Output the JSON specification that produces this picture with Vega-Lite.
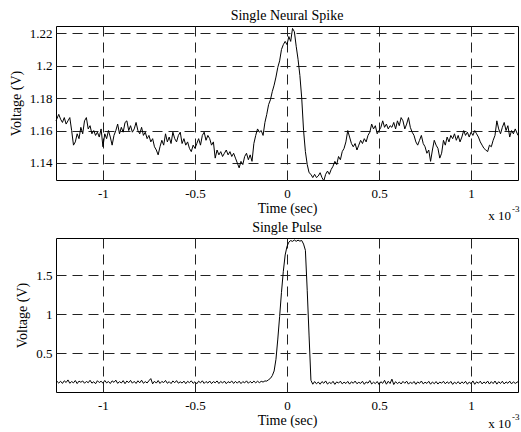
{
"$schema": "https://vega.github.io/schema/vega-lite/v6.json",
"padding": {"left": 8, "top": 8, "right": 2, "bottom": 0},
"spacing": 58,
"bounds": "flush",
"config": {
 "font": "Liberation Serif",
 "view": {"stroke": "black", "strokeWidth": 1},
 "axis": {"grid": true, "gridColor": "#222", "gridDash": [10, 6], "gridOpacity": 1, "gridWidth": 1, "domain": false, "ticks": false, "labelOverlap": false, "tickCount": 10, "labelFont": "Liberation Serif", "labelFontSize": 13, "labelColor": "black", "titleFont": "Liberation Serif", "titleFontSize": 14, "titleFontWeight": "normal", "titleColor": "black"},
 "title": {"font": "Liberation Serif", "fontSize": 14, "fontWeight": "normal", "color": "black", "offset": 3}
},
"datasets": {
 "spike": [
{"t":-1.255,"v":1.166},{"t":-1.24,"v":1.170},{"t":-1.23,"v":1.167},{"t":-1.22,"v":1.165},{"t":-1.21,"v":1.168},{"t":-1.20,"v":1.164},{"t":-1.19,"v":1.166},{"t":-1.18,"v":1.168},{"t":-1.17,"v":1.160},{"t":-1.16,"v":1.151},{"t":-1.15,"v":1.153},{"t":-1.14,"v":1.158},{"t":-1.13,"v":1.155},{"t":-1.12,"v":1.162},{"t":-1.11,"v":1.158},{"t":-1.10,"v":1.166},{"t":-1.09,"v":1.168},{"t":-1.08,"v":1.161},{"t":-1.07,"v":1.163},{"t":-1.06,"v":1.158},{"t":-1.05,"v":1.160},{"t":-1.04,"v":1.157},{"t":-1.03,"v":1.159},{"t":-1.02,"v":1.156},{"t":-1.01,"v":1.161},{"t":-1.00,"v":1.150},{"t":-0.99,"v":1.158},{"t":-0.98,"v":1.155},{"t":-0.97,"v":1.160},{"t":-0.96,"v":1.156},{"t":-0.95,"v":1.151},{"t":-0.94,"v":1.157},{"t":-0.93,"v":1.160},{"t":-0.92,"v":1.164},{"t":-0.91,"v":1.158},{"t":-0.90,"v":1.162},{"t":-0.89,"v":1.159},{"t":-0.88,"v":1.165},{"t":-0.87,"v":1.166},{"t":-0.86,"v":1.160},{"t":-0.85,"v":1.163},{"t":-0.84,"v":1.159},{"t":-0.83,"v":1.161},{"t":-0.82,"v":1.165},{"t":-0.81,"v":1.160},{"t":-0.80,"v":1.158},{"t":-0.79,"v":1.162},{"t":-0.78,"v":1.157},{"t":-0.77,"v":1.159},{"t":-0.76,"v":1.155},{"t":-0.75,"v":1.157},{"t":-0.74,"v":1.153},{"t":-0.73,"v":1.155},{"t":-0.72,"v":1.150},{"t":-0.71,"v":1.148},{"t":-0.70,"v":1.145},{"t":-0.69,"v":1.150},{"t":-0.68,"v":1.154},{"t":-0.67,"v":1.151},{"t":-0.66,"v":1.158},{"t":-0.65,"v":1.153},{"t":-0.64,"v":1.156},{"t":-0.63,"v":1.152},{"t":-0.62,"v":1.159},{"t":-0.61,"v":1.155},{"t":-0.60,"v":1.153},{"t":-0.59,"v":1.157},{"t":-0.58,"v":1.159},{"t":-0.57,"v":1.152},{"t":-0.56,"v":1.155},{"t":-0.55,"v":1.151},{"t":-0.54,"v":1.153},{"t":-0.53,"v":1.149},{"t":-0.52,"v":1.147},{"t":-0.51,"v":1.151},{"t":-0.50,"v":1.149},{"t":-0.49,"v":1.152},{"t":-0.48,"v":1.155},{"t":-0.47,"v":1.151},{"t":-0.46,"v":1.157},{"t":-0.45,"v":1.159},{"t":-0.44,"v":1.154},{"t":-0.43,"v":1.157},{"t":-0.42,"v":1.155},{"t":-0.41,"v":1.151},{"t":-0.40,"v":1.153},{"t":-0.39,"v":1.143},{"t":-0.38,"v":1.148},{"t":-0.37,"v":1.145},{"t":-0.36,"v":1.147},{"t":-0.35,"v":1.144},{"t":-0.34,"v":1.146},{"t":-0.33,"v":1.148},{"t":-0.32,"v":1.145},{"t":-0.31,"v":1.147},{"t":-0.30,"v":1.144},{"t":-0.29,"v":1.146},{"t":-0.28,"v":1.143},{"t":-0.27,"v":1.140},{"t":-0.26,"v":1.137},{"t":-0.25,"v":1.141},{"t":-0.24,"v":1.139},{"t":-0.23,"v":1.144},{"t":-0.22,"v":1.146},{"t":-0.21,"v":1.142},{"t":-0.20,"v":1.145},{"t":-0.19,"v":1.141},{"t":-0.18,"v":1.152},{"t":-0.17,"v":1.157},{"t":-0.16,"v":1.161},{"t":-0.15,"v":1.159},{"t":-0.14,"v":1.160},{"t":-0.13,"v":1.157},{"t":-0.12,"v":1.165},{"t":-0.11,"v":1.170},{"t":-0.10,"v":1.176},{"t":-0.09,"v":1.179},{"t":-0.08,"v":1.184},{"t":-0.07,"v":1.188},{"t":-0.06,"v":1.193},{"t":-0.05,"v":1.199},{"t":-0.04,"v":1.203},{"t":-0.03,"v":1.210},{"t":-0.02,"v":1.213},{"t":-0.01,"v":1.215},{"t":0.00,"v":1.213},{"t":0.01,"v":1.218},{"t":0.02,"v":1.215},{"t":0.03,"v":1.223},{"t":0.04,"v":1.221},{"t":0.05,"v":1.212},{"t":0.06,"v":1.204},{"t":0.07,"v":1.194},{"t":0.08,"v":1.180},{"t":0.09,"v":1.160},{"t":0.10,"v":1.147},{"t":0.11,"v":1.139},{"t":0.12,"v":1.134},{"t":0.13,"v":1.133},{"t":0.14,"v":1.131},{"t":0.15,"v":1.133},{"t":0.16,"v":1.131},{"t":0.17,"v":1.132},{"t":0.18,"v":1.134},{"t":0.19,"v":1.131},{"t":0.20,"v":1.129},{"t":0.21,"v":1.133},{"t":0.22,"v":1.135},{"t":0.23,"v":1.133},{"t":0.24,"v":1.136},{"t":0.25,"v":1.138},{"t":0.26,"v":1.141},{"t":0.27,"v":1.139},{"t":0.28,"v":1.144},{"t":0.29,"v":1.142},{"t":0.30,"v":1.147},{"t":0.31,"v":1.149},{"t":0.32,"v":1.153},{"t":0.33,"v":1.160},{"t":0.34,"v":1.156},{"t":0.35,"v":1.152},{"t":0.36,"v":1.150},{"t":0.37,"v":1.152},{"t":0.38,"v":1.148},{"t":0.39,"v":1.151},{"t":0.40,"v":1.154},{"t":0.41,"v":1.152},{"t":0.42,"v":1.155},{"t":0.43,"v":1.153},{"t":0.44,"v":1.157},{"t":0.45,"v":1.159},{"t":0.46,"v":1.164},{"t":0.47,"v":1.161},{"t":0.48,"v":1.163},{"t":0.49,"v":1.158},{"t":0.50,"v":1.160},{"t":0.51,"v":1.162},{"t":0.52,"v":1.166},{"t":0.53,"v":1.162},{"t":0.54,"v":1.164},{"t":0.55,"v":1.161},{"t":0.56,"v":1.163},{"t":0.57,"v":1.162},{"t":0.58,"v":1.165},{"t":0.59,"v":1.161},{"t":0.60,"v":1.166},{"t":0.61,"v":1.163},{"t":0.62,"v":1.168},{"t":0.63,"v":1.166},{"t":0.64,"v":1.161},{"t":0.65,"v":1.164},{"t":0.66,"v":1.168},{"t":0.67,"v":1.162},{"t":0.68,"v":1.159},{"t":0.69,"v":1.157},{"t":0.70,"v":1.153},{"t":0.71,"v":1.151},{"t":0.72,"v":1.154},{"t":0.73,"v":1.157},{"t":0.74,"v":1.152},{"t":0.75,"v":1.150},{"t":0.76,"v":1.146},{"t":0.77,"v":1.148},{"t":0.78,"v":1.141},{"t":0.79,"v":1.148},{"t":0.80,"v":1.154},{"t":0.81,"v":1.151},{"t":0.82,"v":1.149},{"t":0.83,"v":1.143},{"t":0.84,"v":1.146},{"t":0.85,"v":1.154},{"t":0.86,"v":1.151},{"t":0.87,"v":1.156},{"t":0.88,"v":1.153},{"t":0.89,"v":1.157},{"t":0.90,"v":1.155},{"t":0.91,"v":1.158},{"t":0.92,"v":1.154},{"t":0.93,"v":1.157},{"t":0.94,"v":1.153},{"t":0.95,"v":1.156},{"t":0.96,"v":1.160},{"t":0.97,"v":1.157},{"t":0.98,"v":1.159},{"t":0.99,"v":1.156},{"t":1.00,"v":1.159},{"t":1.01,"v":1.157},{"t":1.02,"v":1.160},{"t":1.03,"v":1.158},{"t":1.04,"v":1.156},{"t":1.05,"v":1.153},{"t":1.06,"v":1.151},{"t":1.07,"v":1.149},{"t":1.08,"v":1.148},{"t":1.09,"v":1.147},{"t":1.10,"v":1.151},{"t":1.11,"v":1.150},{"t":1.12,"v":1.154},{"t":1.13,"v":1.157},{"t":1.14,"v":1.166},{"t":1.15,"v":1.161},{"t":1.16,"v":1.158},{"t":1.17,"v":1.162},{"t":1.18,"v":1.165},{"t":1.19,"v":1.160},{"t":1.20,"v":1.163},{"t":1.21,"v":1.156},{"t":1.22,"v":1.160},{"t":1.23,"v":1.158},{"t":1.24,"v":1.161},{"t":1.255,"v":1.157}
 ],
 "pulse": [
{"t":-1.255,"v":0.15},{"t":-1.24,"v":0.115},{"t":-1.23,"v":0.138},{"t":-1.22,"v":0.11},{"t":-1.21,"v":0.144},{"t":-1.20,"v":0.122},{"t":-1.19,"v":0.155},{"t":-1.18,"v":0.112},{"t":-1.17,"v":0.134},{"t":-1.16,"v":0.118},{"t":-1.15,"v":0.147},{"t":-1.14,"v":0.108},{"t":-1.13,"v":0.14},{"t":-1.12,"v":0.125},{"t":-1.11,"v":0.142},{"t":-1.10,"v":0.112},{"t":-1.09,"v":0.136},{"t":-1.08,"v":0.119},{"t":-1.07,"v":0.15},{"t":-1.06,"v":0.114},{"t":-1.05,"v":0.132},{"t":-1.04,"v":0.106},{"t":-1.03,"v":0.145},{"t":-1.02,"v":0.121},{"t":-1.01,"v":0.139},{"t":-1.00,"v":0.113},{"t":-0.99,"v":0.148},{"t":-0.98,"v":0.117},{"t":-0.97,"v":0.135},{"t":-0.96,"v":0.109},{"t":-0.95,"v":0.143},{"t":-0.94,"v":0.124},{"t":-0.93,"v":0.152},{"t":-0.92,"v":0.111},{"t":-0.91,"v":0.133},{"t":-0.90,"v":0.116},{"t":-0.89,"v":0.146},{"t":-0.88,"v":0.107},{"t":-0.87,"v":0.141},{"t":-0.86,"v":0.12},{"t":-0.85,"v":0.149},{"t":-0.84,"v":0.113},{"t":-0.83,"v":0.137},{"t":-0.82,"v":0.11},{"t":-0.81,"v":0.144},{"t":-0.80,"v":0.118},{"t":-0.79,"v":0.151},{"t":-0.78,"v":0.112},{"t":-0.77,"v":0.134},{"t":-0.76,"v":0.116},{"t":-0.75,"v":0.145},{"t":-0.74,"v":0.172},{"t":-0.73,"v":0.105},{"t":-0.72,"v":0.138},{"t":-0.71,"v":0.114},{"t":-0.70,"v":0.147},{"t":-0.69,"v":0.11},{"t":-0.68,"v":0.136},{"t":-0.67,"v":0.121},{"t":-0.66,"v":0.148},{"t":-0.65,"v":0.112},{"t":-0.64,"v":0.133},{"t":-0.63,"v":0.108},{"t":-0.62,"v":0.142},{"t":-0.61,"v":0.119},{"t":-0.60,"v":0.146},{"t":-0.59,"v":0.113},{"t":-0.58,"v":0.131},{"t":-0.57,"v":0.115},{"t":-0.56,"v":0.14},{"t":-0.55,"v":0.107},{"t":-0.54,"v":0.137},{"t":-0.53,"v":0.12},{"t":-0.52,"v":0.143},{"t":-0.51,"v":0.111},{"t":-0.50,"v":0.132},{"t":-0.49,"v":0.106},{"t":-0.48,"v":0.139},{"t":-0.47,"v":0.117},{"t":-0.46,"v":0.144},{"t":-0.45,"v":0.11},{"t":-0.44,"v":0.135},{"t":-0.43,"v":0.114},{"t":-0.42,"v":0.141},{"t":-0.41,"v":0.108},{"t":-0.40,"v":0.134},{"t":-0.39,"v":0.118},{"t":-0.38,"v":0.142},{"t":-0.37,"v":0.109},{"t":-0.36,"v":0.136},{"t":-0.35,"v":0.115},{"t":-0.34,"v":0.14},{"t":-0.33,"v":0.107},{"t":-0.32,"v":0.133},{"t":-0.31,"v":0.119},{"t":-0.30,"v":0.141},{"t":-0.29,"v":0.11},{"t":-0.28,"v":0.137},{"t":-0.27,"v":0.113},{"t":-0.26,"v":0.139},{"t":-0.25,"v":0.108},{"t":-0.24,"v":0.134},{"t":-0.23,"v":0.117},{"t":-0.22,"v":0.143},{"t":-0.21,"v":0.112},{"t":-0.20,"v":0.136},{"t":-0.19,"v":0.115},{"t":-0.18,"v":0.14},{"t":-0.17,"v":0.118},{"t":-0.16,"v":0.138},{"t":-0.15,"v":0.12},{"t":-0.14,"v":0.137},{"t":-0.13,"v":0.128},{"t":-0.12,"v":0.142},{"t":-0.11,"v":0.14},{"t":-0.10,"v":0.158},{"t":-0.09,"v":0.175},{"t":-0.08,"v":0.21},{"t":-0.07,"v":0.27},{"t":-0.06,"v":0.42},{"t":-0.05,"v":0.68},{"t":-0.04,"v":0.97},{"t":-0.03,"v":1.28},{"t":-0.02,"v":1.55},{"t":-0.01,"v":1.76},{"t":0.00,"v":1.87},{"t":0.01,"v":1.925},{"t":0.02,"v":1.945},{"t":0.03,"v":1.935},{"t":0.04,"v":1.952},{"t":0.05,"v":1.936},{"t":0.06,"v":1.95},{"t":0.07,"v":1.938},{"t":0.08,"v":1.946},{"t":0.09,"v":1.9},{"t":0.10,"v":1.82},{"t":0.11,"v":1.3},{"t":0.12,"v":0.72},{"t":0.13,"v":0.15},{"t":0.14,"v":0.1},{"t":0.15,"v":0.134},{"t":0.16,"v":0.105},{"t":0.17,"v":0.128},{"t":0.18,"v":0.1},{"t":0.19,"v":0.134},{"t":0.20,"v":0.112},{"t":0.21,"v":0.142},{"t":0.22,"v":0.102},{"t":0.23,"v":0.124},{"t":0.24,"v":0.108},{"t":0.25,"v":0.137},{"t":0.26,"v":0.098},{"t":0.27,"v":0.13},{"t":0.28,"v":0.114},{"t":0.29,"v":0.139},{"t":0.30,"v":0.104},{"t":0.31,"v":0.127},{"t":0.32,"v":0.109},{"t":0.33,"v":0.136},{"t":0.34,"v":0.101},{"t":0.35,"v":0.131},{"t":0.36,"v":0.112},{"t":0.37,"v":0.14},{"t":0.38,"v":0.106},{"t":0.39,"v":0.125},{"t":0.40,"v":0.11},{"t":0.41,"v":0.138},{"t":0.42,"v":0.099},{"t":0.43,"v":0.129},{"t":0.44,"v":0.113},{"t":0.45,"v":0.147},{"t":0.46,"v":0.103},{"t":0.47,"v":0.126},{"t":0.48,"v":0.108},{"t":0.49,"v":0.135},{"t":0.50,"v":0.097},{"t":0.51,"v":0.132},{"t":0.52,"v":0.111},{"t":0.53,"v":0.15},{"t":0.54,"v":0.1},{"t":0.55,"v":0.138},{"t":0.56,"v":0.109},{"t":0.57,"v":0.165},{"t":0.58,"v":0.096},{"t":0.59,"v":0.133},{"t":0.60,"v":0.107},{"t":0.61,"v":0.128},{"t":0.62,"v":0.103},{"t":0.63,"v":0.136},{"t":0.64,"v":0.112},{"t":0.65,"v":0.139},{"t":0.66,"v":0.101},{"t":0.67,"v":0.127},{"t":0.68,"v":0.108},{"t":0.69,"v":0.135},{"t":0.70,"v":0.099},{"t":0.71,"v":0.13},{"t":0.72,"v":0.111},{"t":0.73,"v":0.141},{"t":0.74,"v":0.104},{"t":0.75,"v":0.126},{"t":0.76,"v":0.11},{"t":0.77,"v":0.137},{"t":0.78,"v":0.1},{"t":0.79,"v":0.129},{"t":0.80,"v":0.106},{"t":0.81,"v":0.134},{"t":0.82,"v":0.102},{"t":0.83,"v":0.128},{"t":0.84,"v":0.113},{"t":0.85,"v":0.138},{"t":0.86,"v":0.105},{"t":0.87,"v":0.131},{"t":0.88,"v":0.109},{"t":0.89,"v":0.136},{"t":0.90,"v":0.098},{"t":0.91,"v":0.127},{"t":0.92,"v":0.107},{"t":0.93,"v":0.133},{"t":0.94,"v":0.103},{"t":0.95,"v":0.13},{"t":0.96,"v":0.11},{"t":0.97,"v":0.137},{"t":0.98,"v":0.1},{"t":0.99,"v":0.128},{"t":1.00,"v":0.108},{"t":1.01,"v":0.142},{"t":1.02,"v":0.099},{"t":1.03,"v":0.131},{"t":1.04,"v":0.112},{"t":1.05,"v":0.139},{"t":1.06,"v":0.104},{"t":1.07,"v":0.129},{"t":1.08,"v":0.11},{"t":1.09,"v":0.14},{"t":1.10,"v":0.102},{"t":1.11,"v":0.133},{"t":1.12,"v":0.108},{"t":1.13,"v":0.141},{"t":1.14,"v":0.101},{"t":1.15,"v":0.132},{"t":1.16,"v":0.109},{"t":1.17,"v":0.138},{"t":1.18,"v":0.103},{"t":1.19,"v":0.13},{"t":1.20,"v":0.111},{"t":1.21,"v":0.139},{"t":1.22,"v":0.104},{"t":1.23,"v":0.131},{"t":1.24,"v":0.11},{"t":1.255,"v":0.133}
 ]
},
"vconcat": [
 {
  "width": 462, "height": 154,
  "title": "Single Neural Spike",
  "layer": [
   {
    "data": {"name": "spike"},
    "mark": {"type": "line", "color": "black", "strokeWidth": 1},
    "encoding": {
     "x": {"field": "t", "type": "quantitative", "scale": {"domain": [-1.255, 1.255], "nice": false, "zero": false}, "axis": {"values": [-1, -0.5, 0, 0.5, 1], "format": "~g", "title": "Time (sec)", "labelPadding": 7, "titlePadding": 1, "labelExpr": "replace(datum.label, '\u2212', '-')"}},
     "y": {"field": "v", "type": "quantitative", "scale": {"domain": [1.1295, 1.2245], "nice": false, "zero": false}, "axis": {"values": [1.14, 1.16, 1.18, 1.2, 1.22], "tickCount": 10, "format": "~g", "title": "Voltage (V)", "labelPadding": 4, "titlePadding": 6}}
    }
   },
   {
    "data": {"values": [{}]},
    "mark": {"type": "text", "align": "right", "baseline": "alphabetic", "dx": -7, "dy": 40, "fontSize": 13, "font": "Liberation Serif", "color": "black"},
    "encoding": {"x": {"datum": 1.255}, "y": {"datum": 1.1295}, "text": {"value": "x 10"}}
   },
   {
    "data": {"values": [{}]},
    "mark": {"type": "text", "align": "left", "baseline": "alphabetic", "dx": -6, "dy": 32, "fontSize": 9, "font": "Liberation Serif", "color": "black"},
    "encoding": {"x": {"datum": 1.255}, "y": {"datum": 1.1295}, "text": {"value": "-3"}}
   }
  ]
 },
 {
  "width": 462, "height": 154,
  "title": "Single Pulse",
  "layer": [
   {
    "data": {"name": "pulse"},
    "mark": {"type": "line", "color": "black", "strokeWidth": 1},
    "encoding": {
     "x": {"field": "t", "type": "quantitative", "scale": {"domain": [-1.255, 1.255], "nice": false, "zero": false}, "axis": {"values": [-1, -0.5, 0, 0.5, 1], "format": "~g", "title": "Time (sec)", "labelPadding": 7, "titlePadding": 1, "labelExpr": "replace(datum.label, '\u2212', '-')"}},
     "y": {"field": "v", "type": "quantitative", "scale": {"domain": [0, 1.978], "nice": false, "zero": false}, "axis": {"values": [0.5, 1, 1.5], "tickCount": 10, "format": "~g", "title": "Voltage (V)", "labelPadding": 4, "titlePadding": 6}}
    }
   },
   {
    "data": {"values": [{}]},
    "mark": {"type": "text", "align": "right", "baseline": "alphabetic", "dx": -7, "dy": 36, "fontSize": 13, "font": "Liberation Serif", "color": "black"},
    "encoding": {"x": {"datum": 1.255}, "y": {"datum": 0}, "text": {"value": "x 10"}}
   },
   {
    "data": {"values": [{}]},
    "mark": {"type": "text", "align": "left", "baseline": "alphabetic", "dx": -6, "dy": 28, "fontSize": 9, "font": "Liberation Serif", "color": "black"},
    "encoding": {"x": {"datum": 1.255}, "y": {"datum": 0}, "text": {"value": "-3"}}
   }
  ]
 }
]
}
